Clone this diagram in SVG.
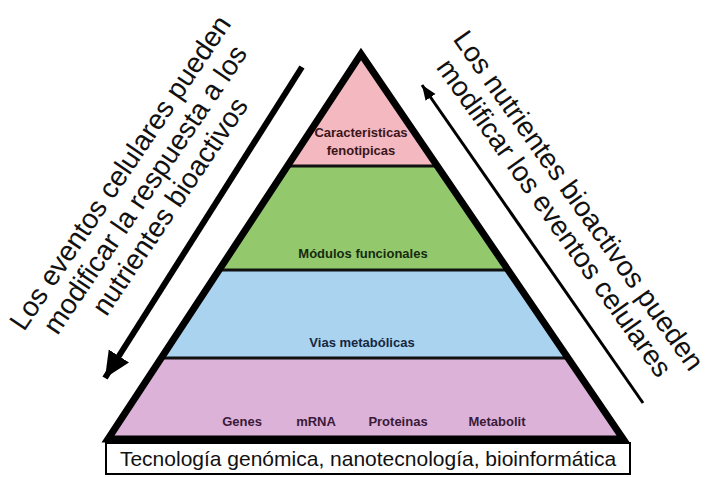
<svg xmlns="http://www.w3.org/2000/svg" width="708" height="477" viewBox="0 0 708 477">
<defs>
<style>
.lbl{font-family:"Liberation Sans",Arial,sans-serif;font-weight:bold;font-size:13px;text-anchor:middle}
.side{font-family:"Liberation Sans",Arial,sans-serif;font-size:28px;text-anchor:middle;fill:#111}
.sep{stroke:#111;stroke-width:3}
</style>
<marker id="bigHead" markerUnits="userSpaceOnUse" markerWidth="30" markerHeight="26" refX="26" refY="12" orient="auto">
<path d="M0,0 L26,12 L0,24 Z" fill="#000"/>
</marker>
<marker id="smallHead" markerUnits="userSpaceOnUse" markerWidth="18" markerHeight="14" refX="15" refY="6" orient="auto">
<path d="M0,0 L15,6 L0,12 Z" fill="#000"/>
</marker>
</defs>
<rect width="708" height="477" fill="#fff"/>

<g id="band-caracteristicas">
<polygon points="361,54 437.3,166 287.4,166" fill="#f3b8c0"/>
<text class="lbl" x="361" y="137" fill="#3a1518" font-size="12.5">Caracteristicas</text>
<text class="lbl" x="361" y="155" fill="#3a1518" font-size="12.5">fenotipicas</text>
</g>
<g id="band-modulos">
<polygon points="287.4,166 437.3,166 508.1,270 219.1,270" fill="#93c96c"/>
<text class="lbl" x="363" y="258" fill="#172a10" font-size="13.5">Módulos funcionales</text>
</g>
<g id="band-vias">
<polygon points="219.1,270 508.1,270 568,358 161.3,358" fill="#a9d3ee"/>
<text class="lbl" x="362" y="347" fill="#16263f" font-size="14">Vias metabólicas</text>
</g>
<g id="band-moleculas">
<polygon points="161.3,358 568,358 623.2,439 108,439" fill="#ddb2d9"/>
<text class="lbl" x="242" y="426" fill="#3a1a38" font-size="14">Genes</text>
<text class="lbl" x="316" y="426" fill="#3a1a38" font-size="14">mRNA</text>
<text class="lbl" x="398" y="426" fill="#3a1a38" font-size="14">Proteinas</text>
<text class="lbl" x="497" y="426" fill="#3a1a38" font-size="14">Metabolit</text>
</g>
<g id="pyramid-outline">
<line class="sep" x1="287.4" y1="166" x2="437.3" y2="166"/>
<line class="sep" x1="219.1" y1="270" x2="508.1" y2="270"/>
<line class="sep" x1="161.3" y1="358" x2="568" y2="358"/>
<polygon points="361,54 623.2,439 108,439" fill="none" stroke="#000" stroke-width="7" stroke-linejoin="miter"/>
</g>
<g id="base-box">
<rect x="106" y="443" width="524" height="31" fill="#fff" stroke="#000" stroke-width="2"/>
<text x="368" y="466" font-family="'Liberation Sans',Arial,sans-serif" font-size="21" text-anchor="middle" fill="#111">Tecnología genómica, nanotecnología, bioinformática</text>
</g>

<g id="connectors">
<line x1="302" y1="67" x2="105" y2="378" stroke="#000" stroke-width="6" marker-end="url(#bigHead)"/>
<line x1="643" y1="403" x2="422" y2="85" stroke="#000" stroke-width="3" marker-end="url(#smallHead)"/>
</g>

<g id="label-left" transform="translate(128,178) rotate(-56)">
<text class="side" x="0" y="0">Los eventos celulares pueden</text>
<text class="side" x="0" y="30">modificar la respuesta a los</text>
<text class="side" x="0" y="60">nutrientes bioactivos</text>
</g>
<g id="label-right" transform="translate(571,206) rotate(54.5)">
<text class="side" x="0" y="0" font-size="26.5">Los nutrientes bioactivos pueden</text>
<text class="side" x="0" y="30" font-size="26.5">modificar los eventos celulares</text>
</g>
</svg>
